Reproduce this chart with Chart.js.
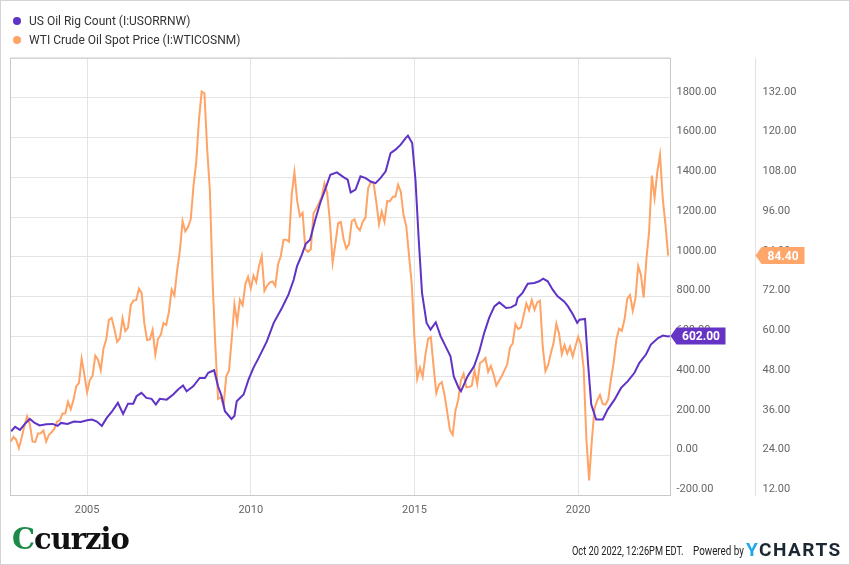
<!DOCTYPE html>
<html>
<head>
<meta charset="utf-8">
<script src="https://cdn.jsdelivr.net/npm/chart.js@4.4.0/dist/chart.umd.min.js"></script>
<style>
  body { margin: 0; background: #fff; font-family: Roboto, sans-serif; }
  #wrap { position: relative; width: 850px; height: 565px; overflow: hidden; }
  #frame { position: absolute; left: 0; top: 0; width: 848px; height: 563px; border: 1px solid #d4d4d4; pointer-events: none; }
  canvas { position: absolute; left: 0; top: 0; }
  .leg { position: absolute; left: 13px; font-size: 12px; color: #333; line-height: 14px; white-space: nowrap; }
  .leg i { display: inline-block; width: 8px; height: 8px; border-radius: 50%; margin-right: 8px; vertical-align: 0px; }
  #logo { position: absolute; left: 12px; top: 522px; font-family: "DejaVu Serif", serif; font-weight: bold; font-size: 29px; color: #111; letter-spacing: -1px; }
  #logo span { color: #1d8a4a; }
  .foot { position: absolute; top: 544px; font-family: Roboto, sans-serif; font-size: 12px; color: #222; white-space: nowrap; transform-origin: 0 0; }
  #ych { position: absolute; left: 746px; top: 538px; font-family: Roboto, sans-serif; font-weight: bold; font-size: 19px; color: #1c2733; letter-spacing: 1.5px; }
  #ych span { color: #1ea7ea; }
</style>
</head>
<body>
<div id="wrap">
  <canvas id="chart" width="850" height="565"></canvas>
  <div class="leg" style="top:14px"><i style="background:#5f33c6"></i>US Oil Rig Count (I:USORRNW)</div>
  <div class="leg" style="top:33px"><i style="background:#ffa366"></i>WTI Crude Oil Spot Price (I:WTICOSNM)</div>
  <div id="logo"><span>C</span>curzio</div>
  <div class="foot" style="left:572px; transform:scaleX(0.77)">Oct 20 2022, 12:26PM EDT.</div>
  <div class="foot" style="left:693px; transform:scaleX(0.82)">Powered by</div>
  <div id="ych"><span>Y</span>CHARTS</div>
  <div id="frame"></div>
</div>
<script>
/* ===== DATA ===== */
const xTicks = [2005, 2010, 2015, 2020];

// US oil rig count (decimal years)
const rigDates = [
  2002.68, 2002.80, 2002.95, 2003.10, 2003.25, 2003.40, 2003.55, 2003.75, 2003.95, 2004.10,
  2004.20, 2004.40, 2004.60, 2004.80, 2005.00, 2005.15, 2005.30, 2005.45, 2005.60, 2005.75,
  2005.94, 2006.10, 2006.25, 2006.41, 2006.51, 2006.66, 2006.81, 2006.97, 2007.10, 2007.22,
  2007.43, 2007.63, 2007.78, 2007.93, 2008.04, 2008.24, 2008.44, 2008.60, 2008.70, 2008.88,
  2009.00, 2009.11, 2009.21, 2009.41, 2009.50, 2009.57, 2009.78, 2009.93, 2010.08, 2010.24,
  2010.49, 2010.70, 2010.95, 2011.15, 2011.31, 2011.41, 2011.56, 2011.68, 2011.81, 2011.97,
  2012.12, 2012.27, 2012.43, 2012.63, 2012.83, 2012.96, 2013.05, 2013.20, 2013.35, 2013.51,
  2013.66, 2013.81, 2013.96, 2014.12, 2014.27, 2014.42, 2014.58, 2014.73, 2014.80, 2014.93,
  2015.03, 2015.13, 2015.23, 2015.37, 2015.49, 2015.65, 2015.80, 2015.95, 2016.10, 2016.20,
  2016.35, 2016.42, 2016.62, 2016.82, 2016.98, 2017.13, 2017.28, 2017.44, 2017.59, 2017.80,
  2017.95, 2018.10, 2018.15, 2018.30, 2018.46, 2018.66, 2018.81, 2018.93, 2019.07, 2019.22,
  2019.37, 2019.57, 2019.69, 2019.84, 2019.97, 2020.04, 2020.21, 2020.30, 2020.40, 2020.55,
  2020.75, 2020.90, 2021.11, 2021.31, 2021.51, 2021.72, 2021.87, 2022.07, 2022.22, 2022.44,
  2022.59, 2022.74, 2022.80
];
const rigCounts = [
  123, 145, 130, 160, 185, 165, 152, 158, 160, 150,
  165, 160, 172, 170, 178, 182, 172, 150, 190, 220,
  266, 210, 262, 262, 299, 316, 291, 286, 257, 286,
  282, 308, 333, 353, 324, 349, 391, 391, 417, 430,
  349, 299, 224, 185, 200, 274, 308, 383, 442, 492,
  575, 668, 743, 810, 885, 952, 1011, 1066, 1086, 1187,
  1271, 1338, 1413, 1425, 1401, 1388, 1324, 1338, 1405, 1396,
  1379, 1371, 1396, 1430, 1522, 1539, 1564, 1597, 1609, 1572,
  1388, 1086, 819, 668, 634, 671, 600, 550, 500, 399,
  341, 324, 399, 450, 525, 618, 693, 751, 771, 743,
  746, 760, 793, 819, 865, 869, 877, 890, 877, 835,
  802, 776, 751, 710, 668, 684, 688, 467, 257, 182,
  182, 232, 282, 341, 374, 417, 467, 509, 559, 592,
  604, 600, 602
];

// WTI crude spot, monthly averages from Aug 2002 (one row per year)
const wtiStartYear = 2002;
const wtiStartMonth = 8;
const wtiPrices = [
  28.2, 29.67, 28.85, 26.27, 29.42,
  32.94, 35.87, 33.55, 28.25, 28.14, 30.72, 30.76, 31.59, 28.29, 30.33, 31.09, 32.15,
  34.31, 34.69, 36.74, 36.75, 40.28, 38.03, 40.78, 44.90, 45.94, 53.28, 48.47, 43.15,
  46.84, 48.15, 54.19, 52.98, 49.83, 56.35, 59.00, 64.99, 65.59, 62.26, 58.32, 59.41,
  65.49, 61.63, 62.69, 69.44, 70.84, 70.95, 74.41, 73.04, 63.80, 58.89, 59.08, 61.96,
  54.51, 59.28, 60.44, 63.98, 63.46, 67.49, 74.12, 72.36, 79.92, 85.80, 94.77, 91.69,
  92.97, 95.39, 105.45, 112.58, 125.40, 133.88, 133.37, 116.67, 104.11, 76.61, 57.31, 41.12,
  41.71, 39.09, 47.94, 49.65, 59.03, 69.64, 64.15, 71.05, 69.41, 75.72, 77.99, 74.47,
  78.33, 76.39, 81.20, 84.29, 73.74, 75.34, 76.32, 76.60, 75.24, 81.89, 84.25, 89.15,
  89.17, 88.58, 102.86, 109.53, 100.90, 96.26, 97.30, 86.33, 85.52, 86.32, 97.16, 98.56,
  100.27, 102.20, 106.16, 103.32, 94.66, 82.30, 87.90, 94.13, 94.51, 89.49, 86.53, 87.86,
  94.76, 95.31, 92.94, 92.02, 94.51, 95.77, 104.67, 106.57, 106.29, 100.54, 93.86, 97.63,
  94.62, 100.82, 100.80, 102.07, 102.18, 105.79, 103.59, 96.54, 93.21, 84.40, 75.79, 59.29,
  47.22, 50.58, 47.82, 54.45, 59.27, 59.82, 50.90, 42.87, 45.48, 46.22, 42.44, 37.19,
  31.68, 30.32, 37.55, 40.75, 46.71, 48.76, 44.65, 44.72, 45.18, 49.78, 45.66, 51.97,
  52.50, 53.47, 49.33, 51.06, 48.48, 45.18, 46.63, 48.04, 49.82, 51.58, 56.64, 57.88,
  63.70, 62.23, 62.73, 66.25, 69.98, 67.87, 70.98, 68.06, 70.23, 70.75, 56.96, 49.52,
  51.38, 54.95, 58.15, 63.86, 60.83, 54.66, 57.35, 54.81, 56.95, 53.96, 57.03, 59.88,
  57.52, 50.54, 29.21, 16.55, 28.56, 38.31, 40.71, 42.34, 39.63, 39.40, 40.94, 47.02,
  52.00, 59.04, 62.33, 61.72, 65.17, 71.38, 72.49, 67.73, 71.54, 81.22, 78.65, 71.71,
  83.22, 91.64, 108.50, 101.78, 109.55, 114.84, 101.62, 93.67, 84.40
];

/* ===== STYLE ===== */
const rigColor = "#5f33c6";
const wtiColor = "#ffa366";

const rigPoints = rigDates.map((d, i) => ({ x: d, y: rigCounts[i] }));
// month-end positions
const wtiPoints = wtiPrices.map((v, i) => ({
  x: wtiStartYear + (wtiStartMonth + i) / 12,
  y: v
}));

/* ===== PLUGINS ===== */
const framePlugin = {
  id: "frame",
  beforeDatasetsDraw(chart) {
    const { ctx, chartArea: a } = chart;
    ctx.save();
    ctx.strokeStyle = "#c9c9c9";
    ctx.lineWidth = 1;
    ctx.beginPath();
    ctx.moveTo(a.left, a.bottom);
    ctx.lineTo(a.left, a.top);
    ctx.lineTo(a.right, a.top);
    ctx.stroke();
    ctx.restore();
  }
};

function drawTag(ctx, x, y, color, text, w) {
  const h = 17, tip = 6;
  ctx.save();
  ctx.fillStyle = color;
  ctx.beginPath();
  ctx.moveTo(x, y);
  ctx.lineTo(x + tip, y - h / 2);
  ctx.lineTo(x + tip + w, y - h / 2);
  ctx.lineTo(x + tip + w, y + h / 2);
  ctx.lineTo(x + tip, y + h / 2);
  ctx.closePath();
  ctx.fill();
  ctx.fillStyle = "#fff";
  ctx.font = "bold 12px Roboto";
  ctx.textAlign = "center";
  ctx.textBaseline = "middle";
  ctx.fillText(text, x + tip + w / 2, y + 1);
  ctx.restore();
}

const tagPlugin = {
  id: "tags",
  afterDraw(chart) {
    const rigLast = rigCounts[rigCounts.length - 1];
    const wtiLast = wtiPrices[wtiPrices.length - 1];
    const sy = chart.scales.y, sy1 = chart.scales.y1;
    drawTag(chart.ctx, sy.left, sy.getPixelForValue(rigLast), "#6634c4", rigLast.toFixed(2), 49);
    drawTag(chart.ctx, sy1.left, sy1.getPixelForValue(wtiLast), "#ffa66b", wtiLast.toFixed(2), 43);
  }
};

/* ===== CHART ===== */
new Chart(document.getElementById("chart"), {
  type: "line",
  data: {
    datasets: [
      {
        label: "US Oil Rig Count (I:USORRNW)",
        data: rigPoints,
        yAxisID: "y",
        borderColor: rigColor,
        borderWidth: 2,
        pointRadius: 0,
        tension: 0
      },
      {
        label: "WTI Crude Oil Spot Price (I:WTICOSNM)",
        data: wtiPoints,
        yAxisID: "y1",
        borderColor: wtiColor,
        borderWidth: 2,
        pointRadius: 0,
        tension: 0
      }
    ]
  },
  options: {
    responsive: false,
    animation: false,
    layout: { padding: { left: 10.5, top: 58, right: 2, bottom: 43.5 } },
    plugins: { legend: { display: false }, tooltip: { enabled: false } },
    scales: {
      x: {
        type: "linear",
        min: 2002.66,
        max: 2022.82,
        afterBuildTicks: s => { s.ticks = xTicks.map(v => ({ value: v })); },
        afterFit: s => { s.height = 26; },
        grid: { color: "#e4e4e4", drawTicks: false },
        border: { color: "#c9c9c9" },
        ticks: {
          padding: 8,
          color: "#666",
          font: { family: "Roboto", size: 11 },
          callback: v => String(v)
        }
      },
      y: {
        position: "right",
        min: -200,
        max: 2000,
        afterFit: s => { s.width = 85; },
        grid: { color: "#e4e4e4", drawTicks: false },
        border: { color: "#c9c9c9" },
        ticks: {
          stepSize: 200,
          padding: 6,
          labelOffset: -6,
          color: "#666",
          font: { family: "Roboto", size: 11 },
          callback: v => (v === 2000 ? "" : v.toFixed(2))
        }
      },
      y1: {
        position: "right",
        min: 12,
        max: 144,
        afterFit: s => { s.width = 92.5; },
        grid: { drawOnChartArea: false, drawTicks: false },
        border: { color: "#e2e2e2" },
        ticks: {
          stepSize: 12,
          padding: 7,
          labelOffset: -6,
          color: "#666",
          font: { family: "Roboto", size: 11 },
          callback: v => (v === 144 ? "" : v.toFixed(2))
        }
      }
    }
  },
  plugins: [framePlugin, tagPlugin]
});
</script>
</body>
</html>
